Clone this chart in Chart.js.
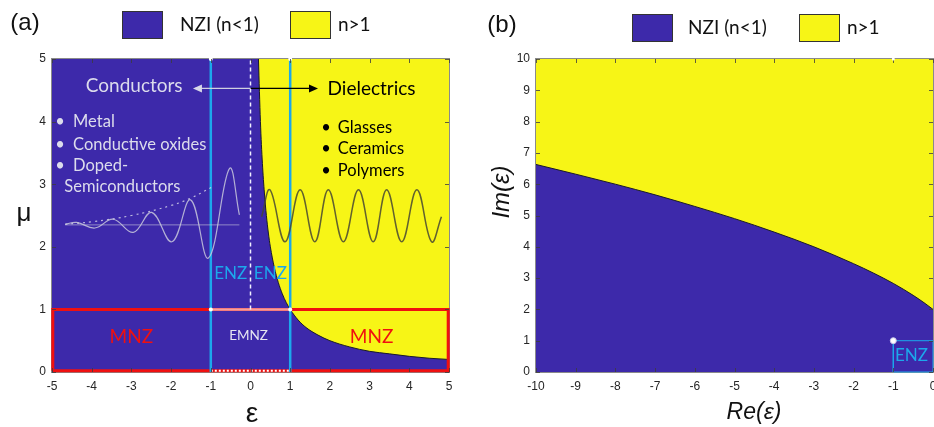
<!DOCTYPE html>
<html>
<head>
<meta charset="utf-8">
<script src="https://cdn.jsdelivr.net/npm/chart.js@4.4.1/dist/chart.umd.min.js"></script>
<style>
html,body{margin:0;padding:0;background:#fff;width:934px;height:427px;overflow:hidden;position:relative;}
#wa{position:absolute;left:0;top:0;}
#wb{position:absolute;left:467px;top:0;}
</style>
</head>
<body>
<div id="wa"><canvas id="ca" width="467" height="427"></canvas></div>
<div id="wb"><canvas id="cb" width="520" height="427"></canvas></div>
<script>
// ---------------- DATA ----------------
// Panel (a): boundary n = 1 in (eps, mu) plane
const epsBoundary = [0.2,0.25,0.3,0.35,0.4,0.45,0.5,0.6,0.7,0.8,0.9,1,1.2,1.4,1.7,2,2.5,3,3.5,4,4.5,5];
const muBoundary  = [5,4,3.33,2.86,2.5,2.22,2,1.67,1.43,1.25,1.11,1,0.83,0.71,0.59,0.5,0.4,0.33,0.29,0.25,0.22,0.2];
// Panel (a): decorative waves
const condWaveX = [-4.67,-4.38,-3.92,-3.46,-2.95,-2.49,-1.98,-1.51,-1.06,-0.53,-0.28];
const condWaveY = [2.36,2.39,2.30,2.44,2.23,2.55,2.08,2.75,1.82,3.25,2.51];
const condEnvX  = [-4.67,-4,-3,-2,-1.5,-0.95];
const condEnvY  = [2.36,2.40,2.50,2.66,2.78,2.96];
const condBaseX = [-4.67,-0.28];
const condBaseY = [2.35,2.35];
const dielWaveX = [0.28,0.49,0.87,1.25,1.62,1.96,2.34,2.72,3.09,3.43,3.81,4.19,4.56,4.81];
const dielWaveY = [2.48,2.91,2.08,2.91,2.08,2.91,2.08,2.91,2.08,2.91,2.08,2.91,2.08,2.48];
// Panel (b): boundary n = 1 in (Re eps, Im eps) plane
const reBoundary = [-10,-9,-8,-7,-6,-5,-4,-3,-2,-1.5,-1,-0.5,-0.2,0];
const imBoundary = [6.63,6.32,6.0,5.66,5.29,4.90,4.47,4.0,3.46,3.16,2.83,2.45,2.19,2.0];
// Axis ticks
const ticksA_x = [-5,-4,-3,-2,-1,0,1,2,3,4,5];
const ticksA_y = [0,1,2,3,4,5];
const ticksB_x = [-10,-9,-8,-7,-6,-5,-4,-3,-2,-1,0];
const ticksB_y = [0,1,2,3,4,5,6,7,8,9,10];
const legendLabels = ['NZI (n<1)','n>1'];

// ---------------- STYLE ----------------
const BLUE = '#3d29aa', YELLOW = '#f7f516', CYAN = '#1ca8ec', RED = '#f01010';
const TXT = '#262626', FRAME = '#8a8a8a';
const SANS = '"Liberation Sans", Arial, sans-serif';
const HUM = 'Lato, "Open Sans", sans-serif';

const pts = (xs, ys) => xs.map((x, i) => ({x, y: ys[i]}));
const seg = (x0,y0,x1,y1) => [{x:x0,y:y0},{x:x1,y:y1}];
function line(data, color, width, extra) {
  return Object.assign({data, borderColor: color, borderWidth: width, pointRadius: 0, fill: false, tension: 0, clip: false, order: 1}, extra || {});
}

function fixedAxes(xMin, xMax, yMin, yMax, xt, yt, yWidth) {
  return {
    x: {type: 'linear', min: xMin, max: xMax, afterBuildTicks: s => { s.ticks = xt.map(v => ({value: v})); },
        grid: {display: false, drawTicks: false}, border: {display: false},
        ticks: {color: TXT, font: {family: SANS, size: 12}, padding: 7, maxRotation: 0, autoSkip: false},
        afterFit: s => { s.height = 55; }},
    y: {type: 'linear', min: yMin, max: yMax, afterBuildTicks: s => { s.ticks = yt.map(v => ({value: v})); },
        grid: {display: false, drawTicks: false}, border: {display: false},
        ticks: {color: TXT, font: {family: SANS, size: 12}, padding: 6, autoSkip: false},
        afterFit: s => { s.width = yWidth; }}
  };
}

function drawFrame(chart) {
  const {ctx, chartArea: a} = chart;
  ctx.save();
  ctx.strokeStyle = FRAME; ctx.lineWidth = 1;
  ctx.strokeRect(a.left - 0.5, a.top - 0.5, a.right - a.left + 1, a.bottom - a.top + 1);
  ctx.restore();
}
function drawTicks(chart, xt, yt) {
  const {ctx, chartArea: a, scales} = chart;
  ctx.save();
  ctx.strokeStyle = 'rgba(60,60,60,0.8)'; ctx.lineWidth = 1;
  ctx.beginPath();
  xt.forEach(v => { const px = Math.round(scales.x.getPixelForValue(v)) + 0.5;
    ctx.moveTo(px, a.bottom); ctx.lineTo(px, a.bottom - 4);
    ctx.moveTo(px, a.top); ctx.lineTo(px, a.top + 4); });
  yt.forEach(v => { const py = Math.round(scales.y.getPixelForValue(v)) + 0.5;
    ctx.moveTo(a.left, py); ctx.lineTo(a.left + 4, py);
    ctx.moveTo(a.right, py); ctx.lineTo(a.right - 4, py); });
  ctx.stroke();
  ctx.restore();
}

function drawLegend(ctx, x0, y0, xText1, x1, xText2) {
  ctx.save();
  ctx.lineWidth = 1; ctx.strokeStyle = '#333';
  ctx.fillStyle = BLUE; ctx.fillRect(x0, y0, 40, 27); ctx.strokeRect(x0 + 0.5, y0 + 0.5, 40, 27);
  ctx.fillStyle = YELLOW; ctx.fillRect(x1, y0, 40, 27); ctx.strokeRect(x1 + 0.5, y0 + 0.5, 40, 27);
  ctx.fillStyle = '#111'; ctx.font = '19px ' + HUM; ctx.textBaseline = 'middle'; ctx.textAlign = 'left';
  ctx.fillText(legendLabels[0], xText1, y0 + 14);
  ctx.fillText(legendLabels[1], xText2, y0 + 14);
  ctx.restore();
}

function txt(ctx, s, x, y, font, color, align) {
  ctx.font = font; ctx.fillStyle = color; ctx.textAlign = align || 'center'; ctx.textBaseline = 'middle';
  ctx.fillText(s, x, y);
}

function arrowHead(ctx, x, y, dir, color) {
  ctx.fillStyle = color; ctx.beginPath();
  ctx.moveTo(x, y); ctx.lineTo(x - dir * 9, y - 4); ctx.lineTo(x - dir * 9, y + 4); ctx.closePath(); ctx.fill();
}

// ---------------- PANEL (a) ----------------
const plugA = {
  id: 'plugA',
  beforeDatasetsDraw(chart) { drawFrame(chart); },
  afterDatasetsDraw(chart) {
    const {ctx, scales: {x, y}} = chart;
    const X = v => x.getPixelForValue(v), Y = v => y.getPixelForValue(v);
    drawTicks(chart, ticksA_x, ticksA_y);
    ctx.save();
    arrowHead(ctx, X(-1.45), Y(4.53), -1, '#d8d8e8');
    arrowHead(ctx, X(1.70), Y(4.53), 1, '#000');
    txt(ctx, 'Conductors', X(-2.93), Y(4.57), '19px ' + HUM, '#dcdcec');
    txt(ctx, 'Dielectrics', X(3.05), Y(4.53), '19px ' + HUM, '#000');
    const f15 = '16.5px ' + HUM;
    const lcol = '#dcdcec';
    [['Metal', 4.0], ['Conductive oxides', 3.63], ['Doped-', 3.30]].forEach(([s, v]) => {
      txt(ctx, '•', X(-4.8), Y(v), f15, lcol, 'center');
      txt(ctx, s, X(-4.47), Y(v), f15, lcol, 'left');
    });
    txt(ctx, 'Semiconductors', X(-4.69), Y(2.96), f15, lcol, 'left');
    [['Glasses', 3.90], ['Ceramics', 3.56], ['Polymers', 3.22]].forEach(([s, v]) => {
      txt(ctx, '•', X(1.9), Y(v), f15, '#000', 'center');
      txt(ctx, s, X(2.2), Y(v), f15, '#000', 'left');
    });
    txt(ctx, 'ENZ', X(-0.5), Y(1.58), '17px ' + HUM, CYAN);
    txt(ctx, 'ENZ', X(0.5), Y(1.58), '17px ' + HUM, CYAN);
    txt(ctx, 'MNZ', X(-3.0), Y(0.56), '19px ' + HUM, RED);
    txt(ctx, 'MNZ', X(3.05), Y(0.56), '19px ' + HUM, RED);
    txt(ctx, 'EMNZ', X(-0.05), Y(0.58), '13.5px ' + HUM, '#e6e6f2');
    ctx.restore();
  },
  afterDraw(chart) {
    const {ctx} = chart;
    ctx.save();
    txt(ctx, '(a)', 25, 23, '24px ' + SANS, '#111');
    drawLegend(ctx, 122, 11, 180, 290, 338);
    txt(ctx, 'μ', 24, 214, '26px ' + SANS, '#111');
    txt(ctx, 'ε', 252, 414, '28px ' + SANS, '#111');
    ctx.restore();
  }
};

new Chart(document.getElementById('ca'), {
  type: 'line',
  data: {datasets: [
    {data: seg(-5,5,5,5), borderWidth: 0, pointRadius: 0, fill: 'origin', backgroundColor: BLUE, order: 30},
    {data: pts(epsBoundary, muBoundary), borderColor: '#1a1a2a', borderWidth: 1, pointRadius: 0,
     fill: 'end', backgroundColor: YELLOW, cubicInterpolationMode: 'monotone', order: 29},
    line(pts(condBaseX, condBaseY), 'rgba(200,200,220,0.6)', 1),
    line(pts(condEnvX, condEnvY), 'rgba(220,220,235,0.8)', 1.2, {borderDash: [2, 4], tension: 0.4}),
    line(pts(condWaveX, condWaveY), 'rgba(200,200,220,0.85)', 1.2, {tension: 0.4}),
    line(pts(dielWaveX, dielWaveY), 'rgba(70,70,50,0.85)', 1.5, {tension: 0.4}),
    line(seg(0,4.53,-1.4,4.53), '#d0d0e0', 1.2),
    line(seg(0,4.53,1.62,4.53), '#000', 1.2),
    line([{x:-4.98,y:0.02},{x:4.98,y:0.02},{x:4.98,y:1},{x:-4.98,y:1},{x:-4.98,y:0.02}], RED, 3, {order: 3}),
    line(seg(-1,1,1,1), '#f4a0a0', 2.5, {order: 2}),
    line(seg(-1,0.02,1,0.02), '#ffffff', 2, {borderDash: [2, 2], order: 2}),
    line(seg(-1,0,-1,5), CYAN, 2.5, {order: 1}),
    line(seg(1,0,1,5), CYAN, 2.5, {order: 1}),
    line(seg(0,1,0,5), '#f0f0ff', 1.5, {borderDash: [4, 3], order: 1}),
    {data: [{x:-1,y:5},{x:1,y:5},{x:-1,y:1},{x:1,y:1}], showLine: false, pointRadius: 2,
     pointBackgroundColor: '#fff', pointBorderWidth: 0, clip: false, order: 0}
  ]},
  options: {
    responsive: false, animation: false, events: [],
    layout: {padding: {top: 59, right: 18, left: 0, bottom: 0}},
    plugins: {legend: {display: false}, tooltip: {enabled: false}},
    scales: fixedAxes(-5, 5, 0, 5, ticksA_x, ticksA_y, 52)
  },
  plugins: [plugA]
});

// ---------------- PANEL (b) ----------------
const plugB = {
  id: 'plugB',
  beforeDatasetsDraw(chart) { drawFrame(chart); },
  afterDatasetsDraw(chart) {
    const {ctx, scales: {x, y}} = chart;
    const X = v => x.getPixelForValue(v), Y = v => y.getPixelForValue(v);
    drawTicks(chart, ticksB_x, ticksB_y);
    ctx.save();
    txt(ctx, 'ENZ', X(-0.54), Y(0.53), '17px ' + HUM, CYAN);
    ctx.fillStyle = '#fff'; ctx.strokeStyle = '#c8c8e8'; ctx.lineWidth = 1;
    ctx.beginPath(); ctx.arc(X(-1), Y(1), 3, 0, Math.PI * 2); ctx.fill(); ctx.stroke();
    ctx.beginPath(); ctx.arc(X(-1), Y(10), 1.5, 0, Math.PI * 2); ctx.fill();
    ctx.restore();
  },
  afterDraw(chart) {
    const {ctx} = chart;
    ctx.save();
    txt(ctx, '(b)', 35, 25, '24px ' + SANS, '#111');
    drawLegend(ctx, 632 - 467, 14, 688 - 467, 799 - 467, 847 - 467);
    ctx.save();
    ctx.translate(502 - 467, 192); ctx.rotate(-Math.PI / 2);
    txt(ctx, 'Im(ε)', 0, 0, 'italic 24px ' + SANS, '#111');
    ctx.restore();
    txt(ctx, 'Re(ε)', 754 - 467, 413, 'italic 23px ' + SANS, '#111');
    ctx.restore();
  }
};

new Chart(document.getElementById('cb'), {
  type: 'line',
  data: {datasets: [
    {data: seg(-10,10,0,10), borderWidth: 0, pointRadius: 0, fill: 'origin', backgroundColor: BLUE, order: 30},
    {data: pts(reBoundary, imBoundary), borderColor: '#1a1a2a', borderWidth: 1, pointRadius: 0,
     fill: 'end', backgroundColor: YELLOW, cubicInterpolationMode: 'monotone', order: 29},
    line([{x:-1,y:0},{x:0,y:0},{x:0,y:1},{x:-1,y:1},{x:-1,y:0}], CYAN, 1, {order: 2})
  ]},
  options: {
    responsive: false, animation: false, events: [],
    layout: {padding: {top: 59, right: 54, left: 0, bottom: 0}},
    plugins: {legend: {display: false}, tooltip: {enabled: false}},
    scales: fixedAxes(-10, 0, 0, 10, ticksB_x, ticksB_y, 69)
  },
  plugins: [plugB]
});
</script>
</body>
</html>
